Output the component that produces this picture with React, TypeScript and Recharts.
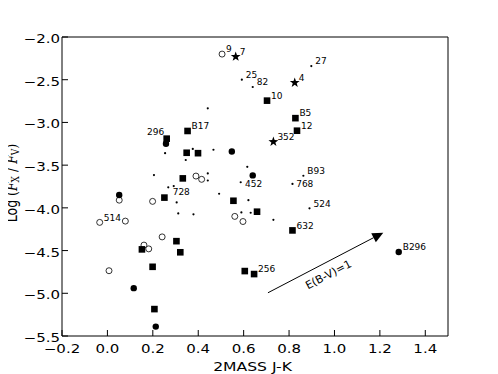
import React from 'react';
import {
  ScatterChart,
  Scatter,
  XAxis,
  YAxis,
  ReferenceLine,
} from 'recharts';

// ── data (J-K colour, log Fx/Fv, label) ─────────────────────────────────────

type Pt = [number, number, string?];

const stars: Pt[] = [
  [0.565, -2.23, '7'],
  [0.825, -2.535, '4'],
  [0.731, -3.226, '352'],
];

const squares: Pt[] = [
  [0.703, -2.745, '10'],
  [0.828, -2.95, 'B5'],
  [0.835, -3.097, '12'],
  [0.353, -3.1, 'B17'],
  [0.261, -3.19, '296'],
  [0.349, -3.355],
  [0.399, -3.36],
  [0.332, -3.655],
  [0.251, -3.88],
  [0.555, -3.917],
  [0.659, -4.045],
  [0.815, -4.264, '632'],
  [0.304, -4.39],
  [0.152, -4.486],
  [0.321, -4.52],
  [0.199, -4.69],
  [0.605, -4.74],
  [0.646, -4.775, '256'],
  [0.207, -5.185],
];

const filledCircles: Pt[] = [
  [0.258, -3.25],
  [0.548, -3.34],
  [0.64, -3.62],
  [0.052, -3.85],
  [1.283, -4.517, 'B296'],
  [0.116, -4.94],
  [0.213, -5.39],
];

const openCircles: Pt[] = [
  [0.505, -2.2, '9'],
  [0.39, -3.628],
  [0.415, -3.666],
  [0.052, -3.91],
  [0.199, -3.924],
  [-0.034, -4.17, '514'],
  [0.079, -4.155],
  [0.561, -4.1],
  [0.597, -4.16],
  [0.241, -4.34],
  [0.161, -4.436],
  [0.182, -4.48],
  [0.007, -4.736],
];

const dots: Pt[] = [
  [0.592, -2.5, '25'],
  [0.64, -2.585, '82'],
  [0.898, -2.34, '27'],
  [0.442, -2.835],
  [0.254, -3.36],
  [0.376, -3.31],
  [0.467, -3.32],
  [0.345, -3.44],
  [0.616, -3.52],
  [0.205, -3.616],
  [0.442, -3.597],
  [0.442, -3.68],
  [0.587, -3.7, '452'],
  [0.268, -3.76, '728'],
  [0.292, -3.745],
  [0.305, -3.936],
  [0.492, -3.835],
  [0.621, -3.91],
  [0.59, -4.053],
  [0.631, -4.057],
  [0.312, -4.065],
  [0.379, -4.076],
  [0.731, -4.14],
  [0.863, -3.624, 'B93'],
  [0.815, -3.72, '768'],
  [0.89, -4.006, '524'],
];

// reddening vector, E(B-V)=1
const arrowStart = { x: 0.707, y: -4.994 };
const arrowEnd = { x: 1.215, y: -4.29 };

const xTicks = [-0.2, 0, 0.2, 0.4, 0.6, 0.8, 1.0, 1.2, 1.4];
const yTicks = [-5.5, -5.0, -4.5, -4.0, -3.5, -3.0, -2.5, -2.0];

// ── layout / style ──────────────────────────────────────────────────────────

const W = 498;
const H = 374;
const FONT = 'DejaVu Sans, sans-serif';
const SERIF = 'DejaVu Serif, serif';
const TICK = 6;
const SX = 1.25; // the reference text is a bit wider than tall

// label placement tweaks: [dx, dy, anchor]
const labelPos: Record<string, [number, number, 'start' | 'end']> = {
  '296': [-2.5, -3.3, 'end'],
  '452': [4.3, 4.4, 'start'],
  '728': [4.4, 7.7, 'start'],
  '768': [3.7, 3.3, 'start'],
};

const toRows = (pts: Pt[]) => pts.map(([x, y, label]) => ({ x, y, label: label ?? '' }));

const fmt = (v: number) => {
  const s = v.toFixed(1);
  return s.startsWith('-') ? '\u2212' + s.slice(1) : s;
};

function PointLabel({ cx, cy, label }: { cx: number; cy: number; label: string }) {
  if (!label) return null;
  const [dx, dy, anchor] = labelPos[label] ?? [4, -1.8, 'start'];
  return (
    <text x={cx + dx} y={cy + dy} fontSize={9} fontFamily={FONT} textAnchor={anchor} fill="#000">
      {label}
    </text>
  );
}

const starPath = (cx: number, cy: number, R: number, r: number) => {
  const p: string[] = [];
  for (let i = 0; i < 10; i++) {
    const a = -Math.PI / 2 + (i * Math.PI) / 5;
    const rad = i % 2 === 0 ? R : r;
    p.push(`${(cx + rad * Math.cos(a)).toFixed(2)},${(cy + rad * Math.sin(a)).toFixed(2)}`);
  }
  return p.join(' ');
};

const StarShape = (props: any) => {
  const { cx, cy, payload } = props;
  return (
    <g>
      <polygon points={starPath(cx, cy, 5.2, 2.1)} fill="#000" />
      <PointLabel cx={cx} cy={cy} label={payload.label} />
    </g>
  );
};

const SquareShape = (props: any) => {
  const { cx, cy, payload } = props;
  return (
    <g>
      <rect x={cx - 3.3} y={cy - 3.3} width={6.6} height={6.6} fill="#000" />
      <PointLabel cx={cx} cy={cy} label={payload.label} />
    </g>
  );
};

const FilledCircleShape = (props: any) => {
  const { cx, cy, payload } = props;
  return (
    <g>
      <circle cx={cx} cy={cy} r={3.2} fill="#000" />
      <PointLabel cx={cx} cy={cy} label={payload.label} />
    </g>
  );
};

const OpenCircleShape = (props: any) => {
  const { cx, cy, payload } = props;
  return (
    <g>
      <circle cx={cx} cy={cy} r={3} fill="#fff" stroke="#000" strokeWidth={0.8} />
      <PointLabel cx={cx} cy={cy} label={payload.label} />
    </g>
  );
};

const DotShape = (props: any) => {
  const { cx, cy, payload } = props;
  return (
    <g>
      <circle cx={cx} cy={cy} r={1.1} fill="#000" />
      <PointLabel cx={cx} cy={cy} label={payload.label} />
    </g>
  );
};

// ── ticks (matplotlib style: pointing inwards) ──────────────────────────────

const BottomTick = (props: any) => {
  const { x, y, payload } = props;
  return (
    <g>
      <line x1={x} y1={y} x2={x} y2={y - TICK} stroke="#000" />
      <text
        transform={`translate(${x},${y + 17.3}) scale(${SX},1)`}
        textAnchor="middle"
        fontSize={12}
        fontFamily={FONT}
        fill="#000"
      >
        {fmt(payload.value)}
      </text>
    </g>
  );
};

const TopTick = (props: any) => {
  const { x, y } = props;
  return <line x1={x} y1={y} x2={x} y2={y + TICK} stroke="#000" />;
};

const LeftTick = (props: any) => {
  const { x, y, payload } = props;
  return (
    <g>
      <line x1={x} y1={y} x2={x + TICK} y2={y} stroke="#000" />
      <text
        transform={`translate(${x - 2},${y + 6}) scale(${SX},1)`}
        textAnchor="end"
        fontSize={12}
        fontFamily={FONT}
        fill="#000"
      >
        {fmt(payload.value)}
      </text>
    </g>
  );
};

const RightTick = (props: any) => {
  const { x, y } = props;
  return <line x1={x} y1={y} x2={x - TICK} y2={y} stroke="#000" />;
};

const ReddeningArrow = (props: any) => {
  const { x1, y1, x2, y2 } = props;
  const dx = x2 - x1;
  const dy = y2 - y1;
  const len = Math.hypot(dx, dy);
  const ux = dx / len;
  const uy = dy / len;
  const headL = 11;
  const headW = 5;
  const bx = x2 - ux * headL;
  const by = y2 - uy * headL;
  const ang = (Math.atan2(dy, dx) * 180) / Math.PI;
  const mx = (x1 + x2) / 2 - ux * 3 + -uy * 12;
  const my = (y1 + y2) / 2 - uy * 3 + ux * 12;
  return (
    <g>
      <line x1={x1} y1={y1} x2={bx} y2={by} stroke="#000" strokeWidth={1} />
      <polygon
        points={`${x2},${y2} ${bx - uy * headW},${by + ux * headW} ${bx + uy * headW},${by - ux * headW}`}
        fill="#000"
      />
      <text
        transform={`translate(${mx},${my}) rotate(${ang})`}
        textAnchor="middle"
        dominantBaseline="central"
        fontSize={11}
        fontFamily={FONT}
        fill="#000"
      >
        E(B-V)=1
      </text>
    </g>
  );
};

export default function App() {
  return (
    <div style={{ position: 'relative', width: W, height: H, marginLeft: -8, marginTop: -8, background: '#fff' }}>
      <ScatterChart width={W} height={H} margin={{ top: 32, right: 45, bottom: 8, left: 12 }}>
        <XAxis
          xAxisId="b"
          type="number"
          dataKey="x"
          domain={[-0.2, 1.5]}
          ticks={xTicks}
          height={30}
          tickSize={0}
          tickMargin={0}
          tickLine={false}
          axisLine={{ stroke: '#000' }}
          tick={BottomTick}
          interval={0}
        />
        <XAxis
          xAxisId="t"
          orientation="top"
          type="number"
          dataKey="x"
          domain={[-0.2, 1.5]}
          ticks={xTicks}
          height={5}
          tickSize={0}
          tickMargin={0}
          tickLine={false}
          axisLine={{ stroke: '#000' }}
          tick={TopTick}
          interval={0}
        />
        <YAxis
          yAxisId="l"
          type="number"
          dataKey="y"
          domain={[-5.5, -2]}
          ticks={yTicks}
          width={50}
          tickSize={0}
          tickMargin={0}
          tickLine={false}
          axisLine={{ stroke: '#000' }}
          tick={LeftTick}
          interval={0}
        />
        <YAxis
          yAxisId="r"
          orientation="right"
          type="number"
          dataKey="y"
          domain={[-5.5, -2]}
          ticks={yTicks}
          width={5}
          tickSize={0}
          tickMargin={0}
          tickLine={false}
          axisLine={{ stroke: '#000' }}
          tick={RightTick}
          interval={0}
        />
        <ReferenceLine
          xAxisId="b"
          yAxisId="l"
          segment={[arrowStart, arrowEnd]}
          ifOverflow="visible"
          shape={ReddeningArrow}
        />
        <Scatter xAxisId="b" yAxisId="l" data={toRows(dots)} shape={DotShape} isAnimationActive={false} />
        <Scatter xAxisId="b" yAxisId="l" data={toRows(openCircles)} shape={OpenCircleShape} isAnimationActive={false} />
        <Scatter xAxisId="b" yAxisId="l" data={toRows(filledCircles)} shape={FilledCircleShape} isAnimationActive={false} />
        <Scatter xAxisId="b" yAxisId="l" data={toRows(squares)} shape={SquareShape} isAnimationActive={false} />
        <Scatter xAxisId="b" yAxisId="l" data={toRows(stars)} shape={StarShape} isAnimationActive={false} />
      </ScatterChart>
      <svg width={W} height={H} style={{ position: 'absolute', left: 0, top: 0, pointerEvents: 'none' }}>
        <text
          transform={`translate(252.5,370.7) scale(${SX},1)`}
          textAnchor="middle"
          fontSize={12.5}
          fontFamily={FONT}
          fill="#000"
        >
          2MASS J-K
        </text>
        <text
          transform="translate(16.5,183) rotate(-90) scale(1,1.2)"
          textAnchor="middle"
          fontSize={12.5}
          fill="#000"
        >
          <tspan fontFamily={FONT}>Log </tspan>
          <tspan fontFamily={SERIF}>(</tspan>
          <tspan fontFamily={SERIF} fontStyle="italic">F</tspan>
          <tspan fontFamily={SERIF} fontSize={9} dy={2}>X</tspan>
          <tspan fontFamily={SERIF} dy={-2}> / </tspan>
          <tspan fontFamily={SERIF} fontStyle="italic">F</tspan>
          <tspan fontFamily={SERIF} fontSize={9} dy={2}>V</tspan>
          <tspan fontFamily={SERIF} dy={-2}>)</tspan>
        </text>
      </svg>
    </div>
  );
}
